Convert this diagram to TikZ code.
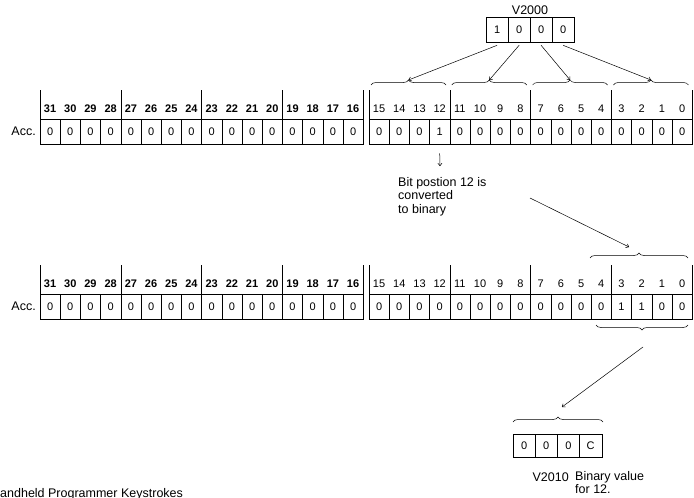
\documentclass[tikz,border=0pt]{standalone}
\usepackage{fontspec}
\setmainfont{Liberation Sans}
\usetikzlibrary{arrows.meta,decorations.pathreplacing}

\tikzset{
  cell/.style={draw,line width=0.6pt,minimum width=20.2pt,minimum height=25pt,inner sep=0pt,font=\fontsize{11}{13}\selectfont},
  wordcell/.style={cell,minimum width=22.2pt,minimum height=23pt},
  bitnum/.style={inner sep=0pt,font=\fontsize{11}{13}\selectfont},
  grpline/.style={line width=0.6pt},
  brc/.style={decorate,decoration={brace,amplitude=5pt},line width=0.5pt},
  arr/.style={-{To[length=3pt,width=4.5pt]},line width=0.5pt},
  note/.style={inner sep=0pt,font=\fontsize{12.5}{13.5}\selectfont}
}

\begin{document}
\begin{tikzpicture}[x=1pt,y=-1pt]
  \useasboundingbox (0,0) rectangle (694,498);

  % source word
  \node[note] (vlab) at (530,10) {V2000};
  \foreach \i/\v in {0/1,1/0,2/0,3/0}
    \node[wordcell,minimum height=25pt] (v\i) at (497.1+22*\i,29.5) {\v};

  % accumulator, before and after
  \foreach \r/\y in {1/131.5,2/306.5} {
    \node[note,anchor=east] (acc\r) at (36,\y) {Acc.};
    \foreach \k in {0,...,31} {
      \pgfmathsetmacro\xc{\k<16 ? 50.1+20.2*\k : 379.1+20.2*(\k-16)}
      \pgfmathtruncatemacro\b{31-\k}
      \pgfmathtruncatemacro\v{\r==1 ? (\b==12) : (\b==3 || \b==2)}
      \node[cell] (r\r-\b) at (\xc,\y) {\v};
      \node[bitnum] (n\r-\b) at (\xc,\y-22.5) {\ifnum\b>15 \textbf{\b}\else\b\fi};
    }
    \foreach \x in {40,120.8,201.6,282.4,363.2,369,449.8,530.6,611.4,692.2}
      \draw[grpline] (\x,\y-41.5) -- (\x,\y+12.5);
  }

  % nibbles of V2000 into bits 15..0
  \foreach \g in {0,1,2,3} {
    \draw[brc] (371+80.8*\g,85) -- (446+80.8*\g,85);
    \coordinate (tip\g) at (408.5+80.8*\g,80);
    \draw[arr] ([yshift=-3pt]v\g.south) -- (tip\g);
  }

  \coordinate (bitdn) at (440,166);
  \draw[arr] ([yshift=-9pt]r1-12.south) -- (bitdn);
  \node[note,anchor=north west,align=left] (bitnote) at (398,177)
    {Bit postion 12 is\\converted\\to binary};

  \coordinate (cvA) at (530,198);
  \coordinate (cvB) at (629,247);
  \draw[arr] (cvA) -- (cvB);

  \draw[brc] (590,258) -- (688,258);
  \draw[brc] (688,325) -- (596,325);

  % result word
  \foreach \i/\v in {0/0,1/0,2/0,3/C}
    \node[wordcell] (w\i) at (524.1+22.2*\i,446) {\v};
  \draw[brc] (513,422) -- (603,422);

  \coordinate (loA) at (643,347);
  \coordinate (loB) at (562,407);
  \draw[arr] (loA) -- (loB);

  \node[note,anchor=east] (wlab) at (569,477) {V2010};
  \node[note,anchor=north west,align=left] (wnote) at (575,471)
    {Binary value\\for 12.};

  \node[note,anchor=base west] (title) at (-9,497) {Handheld Programmer Keystrokes};
\end{tikzpicture}
\end{document}
